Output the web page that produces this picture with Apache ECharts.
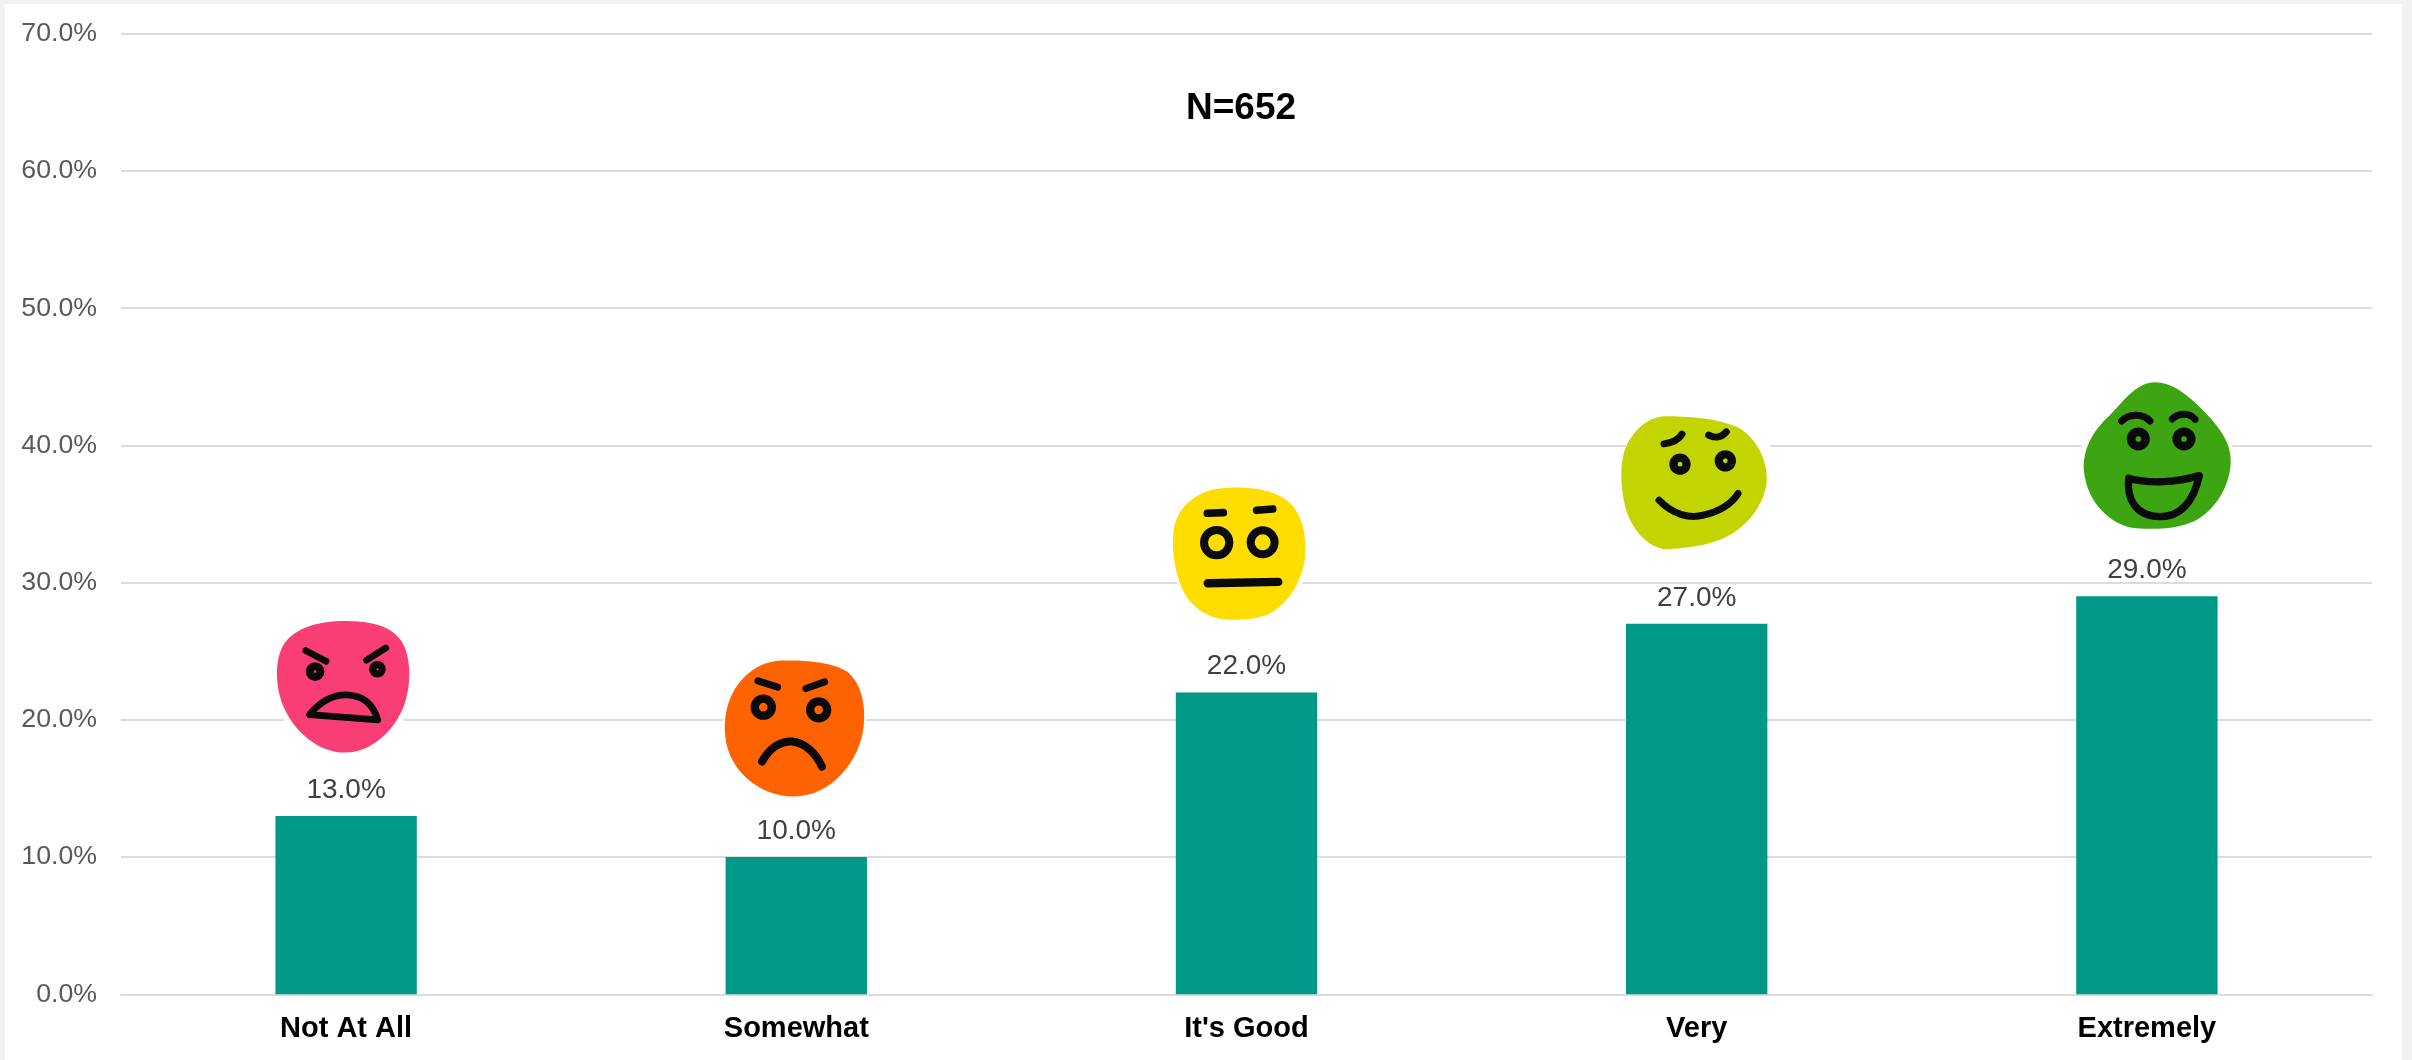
<!DOCTYPE html>
<html>
<head>
<meta charset="utf-8">
<title>N=652</title>
<script src="https://cdn.jsdelivr.net/npm/echarts@6/dist/echarts.min.js"></script>
<style>
  html, body { margin: 0; height: 100%; background: #f2f2f2; overflow: hidden; }
  #frame { position: absolute; left: 5px; top: 4px; width: 2397px; height: 1056px; background: #fff; }
  #chart { position: absolute; left: 0; top: 0; width: 2412px; height: 1060px; }
</style>
</head>
<body>
<div id="frame"></div>
<div id="chart"></div>
<script>
const categories = ['Not At All', 'Somewhat', "It's Good", 'Very', 'Extremely']
const percentages = [13, 10, 22, 27, 29]
const yTicks = { min: 0, max: 70, interval: 10 }
const sampleLabel = 'N=652'

// height on the y axis where each face sits
const faceValues = [22.18, 19.27, 32.38, 37.1, 39.12]

// face artwork, drawn in a local box at 3x and scaled down around (cx, cy)
const faces = [
  {
    color: '#f93e73', cx: 240, cy: 240, dx: -1,
    halo: [57, 290, 358, 70],
    blob: 'M235 33C300 33 375 40 410 95C435 135 440 210 422 270C400 350 325 428 240 428C160 428 90 365 60 300C35 250 25 170 50 115C75 60 150 33 235 33Z',
    strokes: [
      ['M122 122L183 154', 20],
      ['M304 151L362 114', 20],
      ['M133 314C170 270 205 254 245 255C295 257 325 285 338 330Z', 20]
    ],
    eyes: [[150, 185, 16, 24], [337, 178, 14, 22]]
  },
  {
    color: '#ff6200', cx: 240, cy: 240, dx: -1,
    halo: [25, 190, 425, 40],
    blob: 'M200 32C260 30 350 35 395 65C440 100 452 170 445 230C435 330 350 440 235 440C130 440 40 360 30 260C22 180 50 110 100 70C130 45 165 33 200 32Z',
    strokes: [
      ['M128 93L187 112', 21],
      ['M272 116L328 96', 21],
      ['M140 335C165 290 200 272 230 275C265 278 300 305 320 350', 24]
    ],
    eyes: [[144, 172, 25.5, 25], [310, 180, 25.5, 25]]
  },
  {
    color: '#ffdd00', cx: 420, cy: 300, dx: -6.5,
    halo: [232, 380, 375, 40],
    blob: 'M400 113C470 112 540 125 575 165C612 205 620 270 615 320C610 380 575 450 520 485C480 510 420 512 370 508C310 500 260 460 240 400C225 360 215 300 220 250C225 190 265 145 320 125C345 116 375 113 400 113Z',
    strokes: [
      ['M322 190L370 188', 23],
      ['M470 181L518 177', 23],
      ['M323 400L535 396', 25]
    ],
    eyes: [[350, 278, 38, 24], [488, 277, 36, 24]]
  },
  {
    color: '#c2d500', cx: 255, cy: 240, dx: -1.7,
    halo: [47, 100, 433, 40],
    blob: 'M165 33C230 33 320 38 380 65C440 95 475 170 470 230C465 290 420 360 350 395C300 420 230 430 170 432C120 432 70 380 50 320C35 270 28 200 40 150C55 90 105 35 165 33Z',
    strokes: [
      ['M162 116C185 113 205 105 216 87', 21],
      ['M296 90C315 100 335 97 349 80', 21],
      ['M147 285C190 330 240 340 280 330C330 318 365 295 384 265', 21]
    ],
    eyes: [[210, 177, 19.5, 25], [346, 167, 19.5, 25]]
  },
  {
    color: '#3da512', cx: 255, cy: 247.5, dx: 8.1,
    halo: [35, 190, 452, 40],
    blob: 'M255 22C305 22 345 55 385 92C430 135 480 190 482 250C485 320 445 395 385 432C340 460 260 465 200 460C120 452 52 380 42 290C36 225 70 165 115 125C155 88 195 22 255 22Z',
    strokes: [
      ['M155 138C175 118 215 112 240 138', 21],
      ['M307 132C325 113 360 112 375 133', 21],
      ['M176 310C240 328 320 322 388 302C375 360 345 425 270 425C195 425 170 370 176 310Z', 22]
    ],
    eyes: [[205, 192, 21.5, 26], [342, 192, 21.5, 26]]
  }
]

const fontFamily = '"Liberation Sans", Arial, sans-serif'
const gridColor = '#dcdcdc'

function formatPercent(value) {
  return `${Number(value).toFixed(1)}%`
}

function renderFace(params, api) {
  const face = faces[params.dataIndex]
  const point = api.coord([api.value(0), api.value(1)])
  const inkStyle = width => ({
    fill: null,
    stroke: '#0a0a0a',
    lineWidth: width,
    lineCap: 'round',
    lineJoin: 'round'
  })

  const children = [
    {
      type: 'rect',
      shape: { x: face.halo[0], y: face.halo[1], width: face.halo[2], height: face.halo[3] },
      style: { fill: '#ffffff' }
    },
    { type: 'path', shape: { pathData: face.blob }, style: { fill: face.color } }
  ]
  face.strokes.forEach(([pathData, width]) => {
    children.push({ type: 'path', shape: { pathData }, style: inkStyle(width) })
  })
  face.eyes.forEach(([cx, cy, r, width]) => {
    children.push({ type: 'circle', shape: { cx, cy, r }, style: inkStyle(width) })
  })

  return {
    type: 'group',
    x: point[0] + face.dx - face.cx / 3,
    y: point[1] - face.cy / 3,
    scaleX: 1 / 3,
    scaleY: 1 / 3,
    children
  }
}

const chart = echarts.init(document.getElementById('chart'))

chart.setOption({
  animation: false,
  backgroundColor: 'transparent',
  textStyle: { fontFamily },
  title: {
    text: sampleLabel,
    left: 1236,
    top: 85,
    textAlign: 'center',
    textStyle: { color: '#000000', fontFamily, fontSize: 37, fontWeight: 'bold' }
  },
  grid: { left: 121, right: 40, top: 33.7, bottom: 65.7 },
  xAxis: {
    type: 'category',
    data: categories,
    axisTick: { show: false },
    axisLine: { lineStyle: { color: gridColor, width: 2 } },
    axisLabel: {
      color: '#000000',
      fontFamily,
      fontSize: 29,
      fontWeight: 'bold',
      margin: 20
    }
  },
  yAxis: {
    type: 'value',
    min: yTicks.min,
    max: yTicks.max,
    interval: yTicks.interval,
    axisLine: { show: false },
    axisTick: { show: false },
    axisLabel: {
      color: '#595959',
      fontFamily,
      fontSize: 26.7,
      margin: 24,
      padding: [6, 0, 0, 0],
      formatter: formatPercent
    },
    splitLine: { lineStyle: { color: gridColor, width: 2 } }
  },
  series: [
    {
      type: 'bar',
      data: percentages,
      barWidth: '31.4%',
      itemStyle: { color: '#009887' },
      label: {
        show: true,
        position: 'top',
        distance: 12,
        color: '#404040',
        fontFamily,
        fontSize: 28,
        formatter: params => formatPercent(params.value)
      }
    },
    {
      type: 'custom',
      silent: true,
      data: faceValues.map((value, index) => [index, value]),
      encode: { x: 0, y: 1 },
      renderItem: renderFace,
      z: 5
    }
  ]
})

window.addEventListener('resize', () => chart.resize(), { passive: true })
</script>
</body>
</html>
